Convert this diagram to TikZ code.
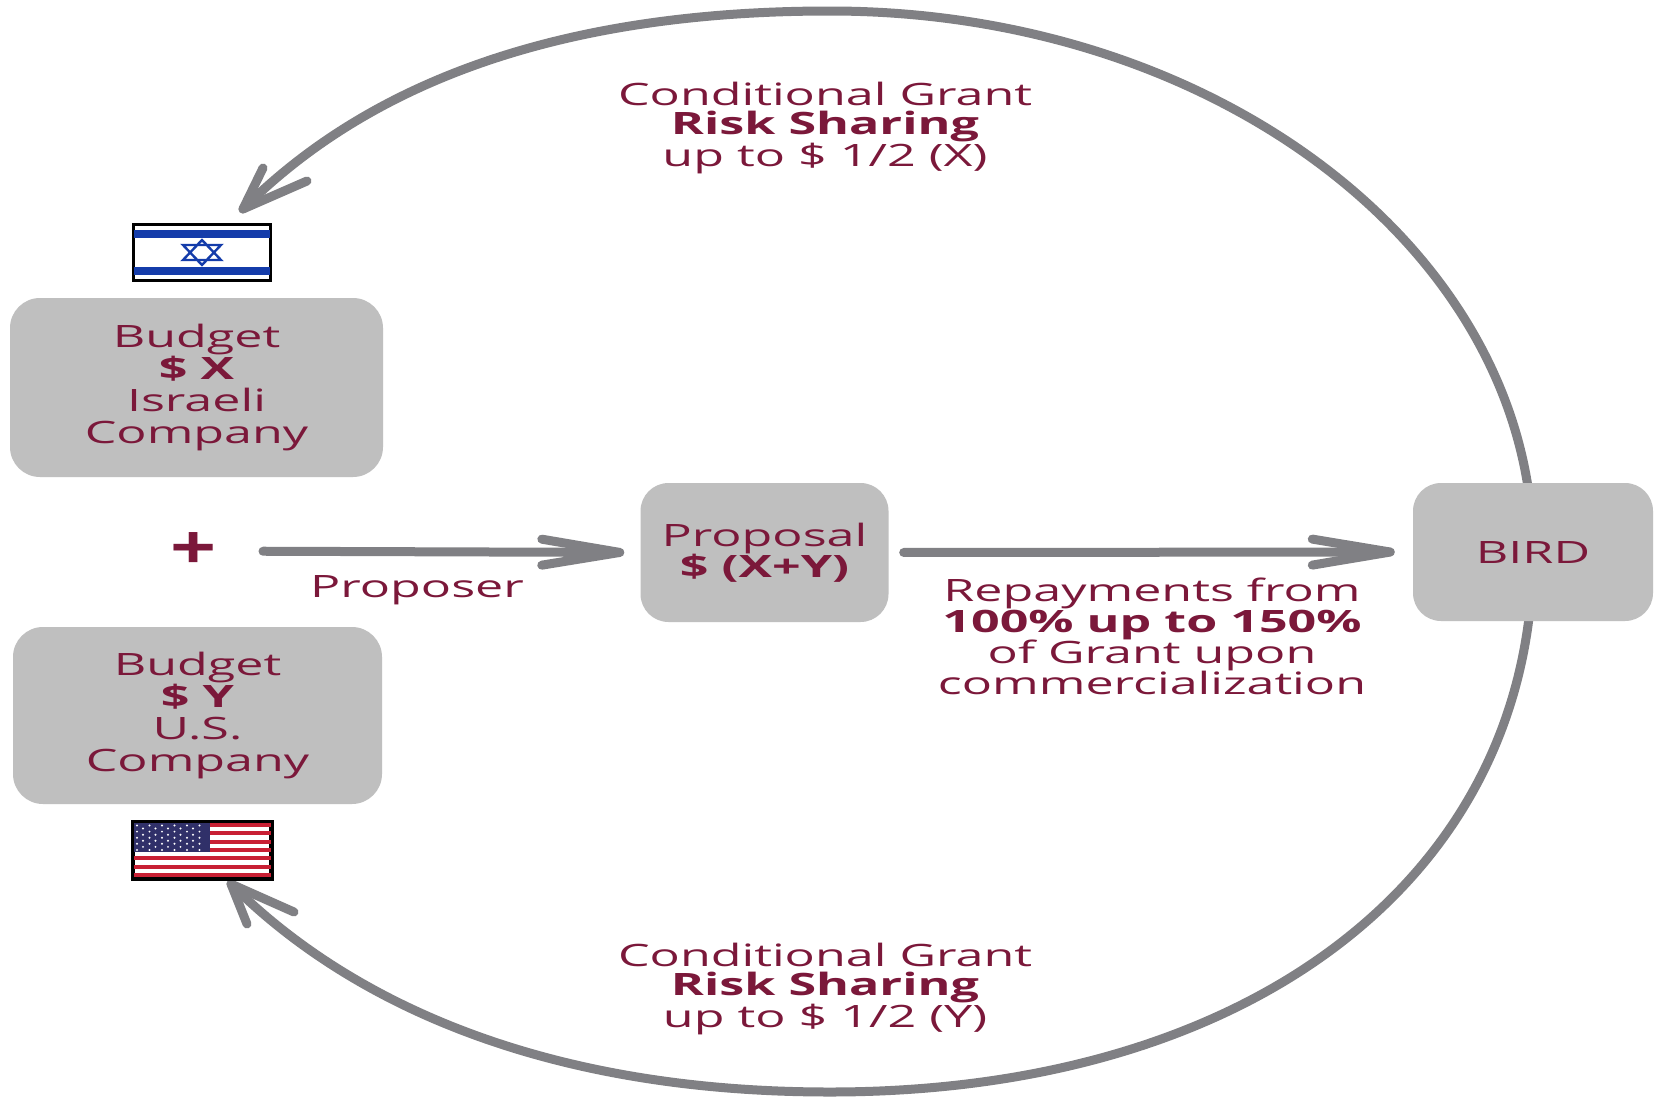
\documentclass[tikz,border=0pt]{standalone}
\usepackage{fontspec}
\setmainfont{Open Sans}[FakeStretch=1.63]
\usetikzlibrary{arrows.meta}
\definecolor{txt}{RGB}{123,24,58}
\definecolor{boxg}{RGB}{191,191,191}
\definecolor{lineg}{RGB}{128,128,132}
\definecolor{ilblue}{RGB}{20,60,170}
\definecolor{usred}{RGB}{200,32,52}
\definecolor{usblue}{RGB}{48,48,105}
\begin{document}
\begin{tikzpicture}[x=1pt,y=-1pt,
  lbl/.style={text=txt, align=center, inner sep=0pt, font=\fontsize{30.8pt}{31pt}\selectfont},
  grant/.style={lbl, font=\fontsize{30.8pt}{29.5pt}\selectfont},
  box/.style={lbl, fill=boxg, rounded corners=30pt},
  conn/.style={draw=lineg, line width=9pt, line cap=round, line join=round},
  arr/.style={conn, -{Straight Barb[length=78pt,width=26pt,round]}},
  flag/.style={draw=black, line width=3pt, fill=white, inner sep=0pt, minimum width=137pt, minimum height=56pt}
]
\useasboundingbox (0,0) rectangle (1656,1100);
\fill[white] (0,0) rectangle (1656,1100);

\coordinate (birdc) at (1533,552);
\coordinate (topc) at (830,11);
\coordinate (botc) at (830,1092);
\coordinate (iltip) at (243,209);
\coordinate (ustip) at (231,884);

% big loop (drawn first, behind the BIRD box)
\draw[conn] (birdc) .. controls (1533,253) and (1218,11) .. (topc)
                    .. controls (530,11) and (353,99) .. (iltip);
\draw[conn] (birdc) .. controls (1533,876) and (1252,1092) .. (botc)
                    .. controls (530,1092) and (341,994) .. (ustip);
\draw[conn] (iltip) ++(20,-41) -- (iltip) -- ++(64,-28);
\draw[conn] (ustip) ++(16,40) -- (ustip) -- ++(63,28);

% boxes
\node[box, font=\fontsize{30.8pt}{32pt}\selectfont, minimum width=373pt, minimum height=179pt] (bx) at (196.5,387.5) {Budget\\\textbf{\$ X}\\Israeli\\Company};
\node[box, font=\fontsize{30.8pt}{32pt}\selectfont, minimum width=369pt, minimum height=177pt] (by) at (197.5,715.5) {Budget\\\textbf{\$ Y}\\U.S.\\Company};
\node[box, minimum width=248pt, minimum height=139pt, rounded corners=28pt] (prop) at (764.5,552.5) {Proposal\\\textbf{\$ (X+Y)}};
\node[box, minimum width=240pt, minimum height=138pt, rounded corners=28pt] (bird) at (birdc) {BIRD};

% plus and labels
\node[lbl, font=\bfseries\fontsize{62pt}{62pt}\selectfont] (plus) at (194,551) {\scalebox{0.8}[1]{+}};
\node[lbl, anchor=base] (proposer) at (417,597) {Proposer};
\node[grant] (gtop) at (825,128) {Conditional Grant\\\textbf{Risk Sharing}\\up to \$ 1/2 (X)};
\node[grant] (gbot) at (825,989) {Conditional Grant\\\textbf{Risk Sharing}\\up to \$ 1/2 (Y)};
\node[lbl] (repay) at (1152,636) {Repayments from\\\textbf{100\% up to 150\%}\\of Grant upon\\commercialization};

% straight connectors
\draw[arr, shorten <=69pt, shorten >=16pt] (plus.center) -- (prop.west);
\draw[arr, shorten <=15pt, shorten >=18pt] (prop.east) -- (bird.west);

% Israeli flag
\node[flag] (il) at (202,252.5) {};
\fill[ilblue] (134,230) rectangle (270,238);
\fill[ilblue] (134,267) rectangle (270,275);
\draw[ilblue, line width=2.4pt, line join=miter] (202,240) -- (221,260) -- (183,260) -- cycle;
\draw[ilblue, line width=2.4pt, line join=miter] (202,265) -- (221,245) -- (183,245) -- cycle;

% US flag
\node[flag, minimum height=55pt] (us) at (202,850) {};
\foreach \i in {0,2,...,12} {
  \fill[usred] (133.5,{823+\i*4.154}) rectangle (270.5,{823+(\i+1)*4.154});
}
\fill[usblue] (133.5,823) rectangle (210,{823+7*4.154});
\foreach \r in {0,...,8} {
  \pgfmathsetmacro{\yy}{825.5+\r*3.05}
  \ifodd\r
    \foreach \c in {0,...,4} { \fill[white] ({143+\c*12.5},\yy) circle (1.1pt); }
  \else
    \foreach \c in {0,...,5} { \fill[white] ({137+\c*12.5},\yy) circle (1.1pt); }
  \fi
}
\draw[black, line width=3pt] (us.north west) rectangle (us.south east);
\end{tikzpicture}
\end{document}
